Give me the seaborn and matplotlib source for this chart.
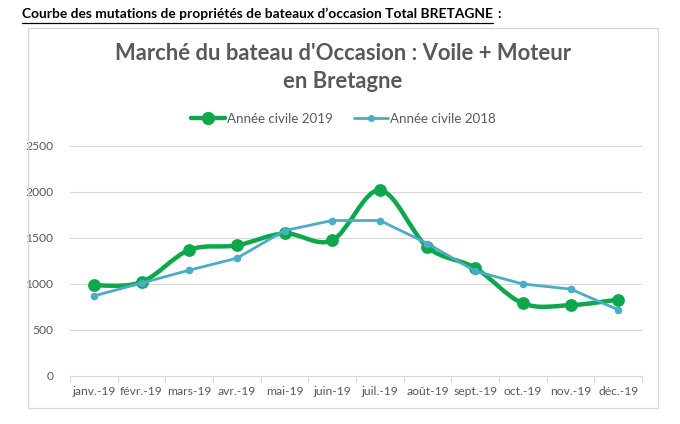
import numpy as np
import pandas as pd
import matplotlib
matplotlib.use("Agg")
import matplotlib.pyplot as plt
import seaborn as sns
from matplotlib.path import Path
from matplotlib.patches import PathPatch, Rectangle
from matplotlib.lines import Line2D

months = ["janv.-19", "févr.-19", "mars-19", "avr.-19", "mai-19", "juin-19",
          "juil.-19", "août-19", "sept.-19", "oct.-19", "nov.-19", "déc.-19"]
values_2019 = [985, 1020, 1370, 1420, 1550, 1475, 2020, 1400, 1175, 790, 770, 830]
values_2018 = [870, 1010, 1150, 1280, 1580, 1690, 1690, 1440, 1140, 1000, 945, 720]
label_2019 = "Année civile 2019"
label_2018 = "Année civile 2018"
yticks = [0, 500, 1000, 1500, 2000, 2500]

GREEN = "#0DA84B"
BLUE = "#4BACC6"
GRAY = "#595959"

sns.set_theme(style="white")
plt.rcParams["font.family"] = ["Lato", "DejaVu Sans"]

fig = plt.figure(figsize=(6.8, 4.24), dpi=100)
W, H = 680, 424

# chart frame
fig.patches.append(Rectangle((28 / W, 1 - 408 / H), 630 / W, 380 / H,
                             transform=fig.transFigure, fill=False,
                             edgecolor="#D9D9D9", linewidth=1.0))

head = fig.text(22 / W, 1 - 14 / H, "Courbe des mutations de propriétés de bateaux d’occasion Total BRETAGNE",
                fontsize=9.9, fontweight="bold", color="black", ha="left", va="center")
renderer = fig.canvas.get_renderer()
bb = head.get_window_extent(renderer=renderer)
x1 = bb.x1 / fig.dpi / fig.get_figwidth()
fig.add_artist(Line2D([22 / W, x1], [1 - 23 / H, 1 - 23 / H], color="black", lw=0.9,
                      transform=fig.transFigure))
fig.text(x1 + 4 / W, 1 - 14 / H, ":", fontsize=9.9, fontweight="bold", color="black",
         ha="left", va="center")

fig.text(343 / W, 1 - 53 / H, "Marché du bateau d'Occasion : Voile + Moteur",
         fontsize=15.8, fontweight="bold", color=GRAY, ha="center", va="center")
fig.text(343 / W, 1 - 82 / H, "en Bretagne",
         fontsize=15.8, fontweight="bold", color=GRAY, ha="center", va="center")

ax = fig.add_axes([70 / W, 1 - 376 / H, 572 / W, 230 / H])

x = np.arange(len(months))

# smoothed 2019 curve (Catmull-Rom -> Bezier, Excel-like smoothing)
y = np.array(values_2019, dtype=float)
verts = [(x[0], y[0])]
codes = [Path.MOVETO]
t = 1 / 6
for i in range(len(x) - 1):
    p0 = (x[i - 1], y[i - 1]) if i > 0 else (x[i], y[i])
    p1 = (x[i], y[i])
    p2 = (x[i + 1], y[i + 1])
    p3 = (x[i + 2], y[i + 2]) if i + 2 < len(x) else (x[i + 1], y[i + 1])
    c1 = (p1[0] + (p2[0] - p0[0]) * t, p1[1] + (p2[1] - p0[1]) * t)
    c2 = (p2[0] - (p3[0] - p1[0]) * t, p2[1] - (p3[1] - p1[1]) * t)
    verts += [c1, c2, p2]
    codes += [Path.CURVE4] * 3
ax.add_patch(PathPatch(Path(verts, codes), facecolor="none", edgecolor=GREEN,
                       lw=3.2, zorder=3, capstyle="round", joinstyle="round"))
sns.scatterplot(x=x, y=values_2019, ax=ax, color=GREEN, s=85, edgecolor=GREEN,
                linewidth=0, zorder=4)

sns.lineplot(x=x, y=values_2018, ax=ax, color=BLUE, lw=2.0, marker="o",
             markersize=5.5, markeredgewidth=0, zorder=5)

ax.set_xlim(-0.5, len(months) - 0.5)
ax.set_ylim(0, 2500)
ax.set_yticks(yticks)
ax.set_yticklabels([str(v) for v in yticks])
ax.set_xticks(x)
ax.set_xticklabels(months)
ax.tick_params(axis="both", labelsize=8.7, colors=GRAY, length=0, pad=7)
ax.tick_params(axis="y", pad=12)
for b in np.arange(-0.5, len(months), 1.0):
    ax.plot([b, b], [0, -60], color="#D9D9D9", lw=0.8, clip_on=False, zorder=1)
ax.grid(axis="y", color="#D9D9D9", lw=0.8)
ax.grid(axis="x", visible=False)
for s in ["top", "right", "left"]:
    ax.spines[s].set_visible(False)
ax.spines["bottom"].set_color("#D9D9D9")
ax.spines["bottom"].set_linewidth(0.8)
ax.set_xlabel("")
ax.set_ylabel("")

handles = [Line2D([], [], color=GREEN, lw=3.2, marker="o", markersize=8.5),
           Line2D([], [], color=BLUE, lw=2.0, marker="o", markersize=4)]
fig.legend(handles, [label_2019, label_2018], loc="center", ncol=2,
           bbox_to_anchor=(343 / W, 1 - 119 / H), frameon=False, fontsize=9.6,
           labelcolor=GRAY, handlelength=2.6, handletextpad=0.1, columnspacing=1.6)

fig.savefig("out.png", dpi=100)
